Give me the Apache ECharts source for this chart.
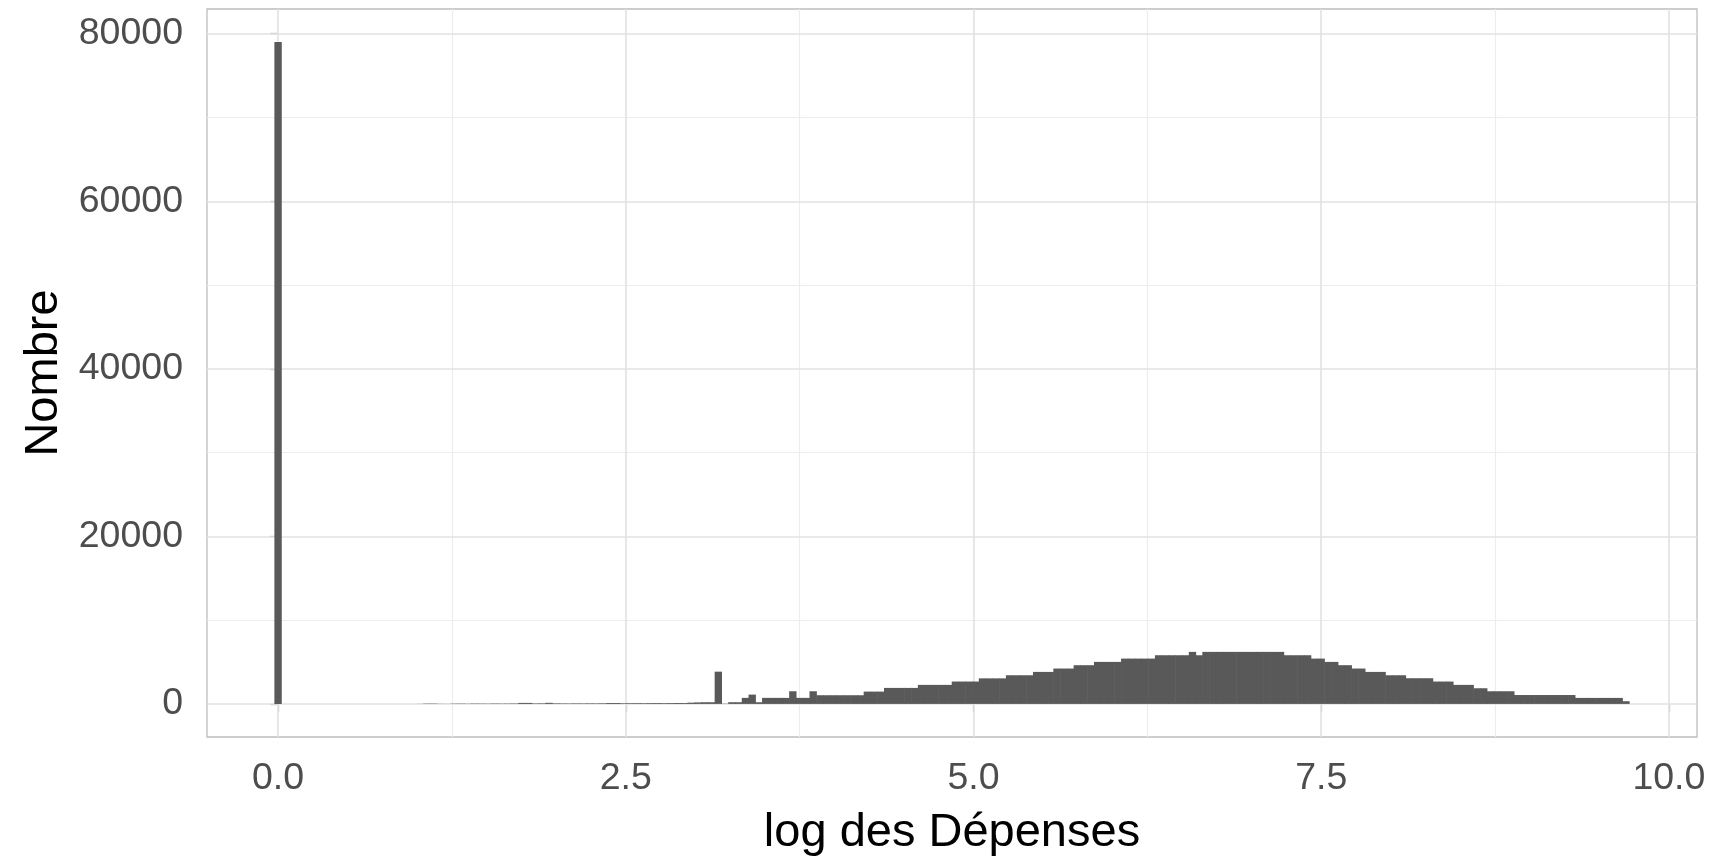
<!DOCTYPE html>
<html>
<head>
<meta charset="utf-8">
<script src="https://cdn.jsdelivr.net/npm/echarts@6/dist/echarts.min.js"></script>
<style>
html, body { margin: 0; padding: 0; background: #ffffff; }
#chart { width: 1709px; height: 857px; }
</style>
</head>
<body>
<div id="chart"></div>
<script>
// Histogram of log spending: bins of equal width, first bin centred on 0
const binWidth = 0.0487;
const counts = [
  79000,
  0, 0, 0, 0, 0, 0, 0, 0, 0, 0,
  0, 0, 0, 0, 0, 0, 0, 0, 0, 0,
  10, 40, 40, 15, 10,
  35, 40, 30, 45, 40, 35, 50, 40, 45, 55,
  120, 120, 60, 70, 130, 70,
  60, 55, 65, 60, 70, 65, 75,
  110, 110,
  80, 85, 90, 85, 95, 100, 90, 100, 110, 105,
  150, 180, 200, 200,
  3850, 30, 200, 200, 720, 1110, 200,
  720, 720, 720, 720, 1510, 720, 720, 1510,
  1035, 1035, 1035, 1035, 1035, 1035, 1035,
  1470, 1470, 1470,
  1910, 1910, 1910, 1910, 1910,
  2270, 2270, 2270, 2270, 2270,
  2670, 2670, 2670, 2670,
  3050, 3050, 3050, 3050,
  3420, 3420, 3420, 3420,
  3820, 3820, 3820,
  4220, 4220, 4220,
  4620, 4620, 4620,
  5015, 5015, 5015, 5015,
  5410, 5410, 5410, 5410, 5410,
  5810, 5810, 5810, 5810, 5810,
  6210, 5810,
  6210, 6210, 6210, 6210, 6210, 6210, 6210, 6210, 6210, 6210, 6210, 6210,
  5810, 5810, 5810, 5810,
  5410, 5410, 5015, 5015, 4620, 4620, 4220, 4220,
  3820, 3820, 3820,
  3420, 3420, 3420,
  3065, 3065, 3065, 3065,
  2670, 2670, 2670,
  2270, 2270, 2270,
  1870, 1870,
  1510, 1510, 1510, 1510,
  1060, 1060, 1060, 1060, 1060, 1060, 1060, 1060, 1060,
  716, 716, 716, 716, 716, 716, 716,
  320
];
const xTicks = [0, 2.5, 5, 7.5, 10];
const xMinor = [1.25, 3.75, 6.25, 8.75];
const yTicks = [0, 20000, 40000, 60000, 80000];
const yMinor = [10000, 30000, 50000, 70000];
const xTitle = 'log des Dépenses';
const yTitle = 'Nombre';

const histData = counts.map((c, k) => [k * binWidth, c]);

const FONT = '"Liberation Sans", Arial, Helvetica, sans-serif';
const chart = echarts.init(document.getElementById('chart'), null, { renderer: 'canvas' });

const gridLines = [].concat(
  xMinor.map(v => ({ xAxis: v, lineStyle: { color: '#ededed', width: 1.2, type: 'solid' } })),
  yMinor.map(v => ({ yAxis: v, lineStyle: { color: '#ededed', width: 1.2, type: 'solid' } })),
  xTicks.map(v => ({ xAxis: v, lineStyle: { color: '#e2e2e2', width: 1.6, type: 'solid' } })),
  yTicks.map(v => ({ yAxis: v, lineStyle: { color: '#e2e2e2', width: 1.6, type: 'solid' } }))
);

chart.setOption({
  animation: false,
  backgroundColor: '#ffffff',
  grid: {
    left: 207, right: 12, top: 9, bottom: 120,
    outerBoundsMode: 'none',
    containLabel: false,
    show: true, borderColor: '#bdbdbd', borderWidth: 1.3, backgroundColor: '#ffffff'
  },
  xAxis: {
    type: 'value',
    min: -0.511, max: 10.202,
    name: xTitle,
    nameLocation: 'middle',
    nameGap: 73,
    nameTextStyle: { fontFamily: FONT, fontSize: 47, color: '#000000' },
    axisLine: { show: false },
    axisTick: { show: true, length: 8, customValues: xTicks, lineStyle: { color: '#b3b3b3', width: 1.3 } },
    axisLabel: {
      customValues: xTicks, margin: 23,
      fontFamily: FONT, fontSize: 37.5, color: '#4d4d4d',
      formatter: v => Number(v).toFixed(1)
    },
    splitLine: { show: false }
  },
  yAxis: {
    type: 'value',
    min: -3950, max: 82950,
    name: yTitle,
    nameLocation: 'middle',
    nameGap: 139,
    nameRotate: 90,
    nameTextStyle: { fontFamily: FONT, fontSize: 47, color: '#000000' },
    axisLine: { show: false },
    axisTick: { show: true, length: 8, customValues: yTicks, lineStyle: { color: '#b3b3b3', width: 1.3 } },
    axisLabel: {
      customValues: yTicks, margin: 24,
      fontFamily: FONT, fontSize: 37.5, color: '#4d4d4d',
      formatter: v => String(Math.round(v))
    },
    splitLine: { show: false }
  },
  series: [
    {
      type: 'line',
      data: [],
      z: 1,
      silent: true,
      markLine: {
        z: 1,
        silent: true,
        symbol: ['none', 'none'],
        label: { show: false },
        emphasis: { disabled: true },
        data: gridLines
      }
    },
    {
      type: 'custom',
      z: 10,
      data: histData,
      renderItem: function (params, api) {
        const x = api.value(0);
        const y = api.value(1);
        if (!(y > 0)) return null;
        const p0 = api.coord([x - binWidth / 2, y]);
        const p1 = api.coord([x + binWidth / 2, 0]);
        return {
          type: 'rect',
          shape: { x: p0[0] - 0.3, y: p0[1], width: p1[0] - p0[0] + 0.6, height: p1[1] - p0[1] },
          style: { fill: '#595959' }
        };
      }
    }
  ]
});
</script>
</body>
</html>
